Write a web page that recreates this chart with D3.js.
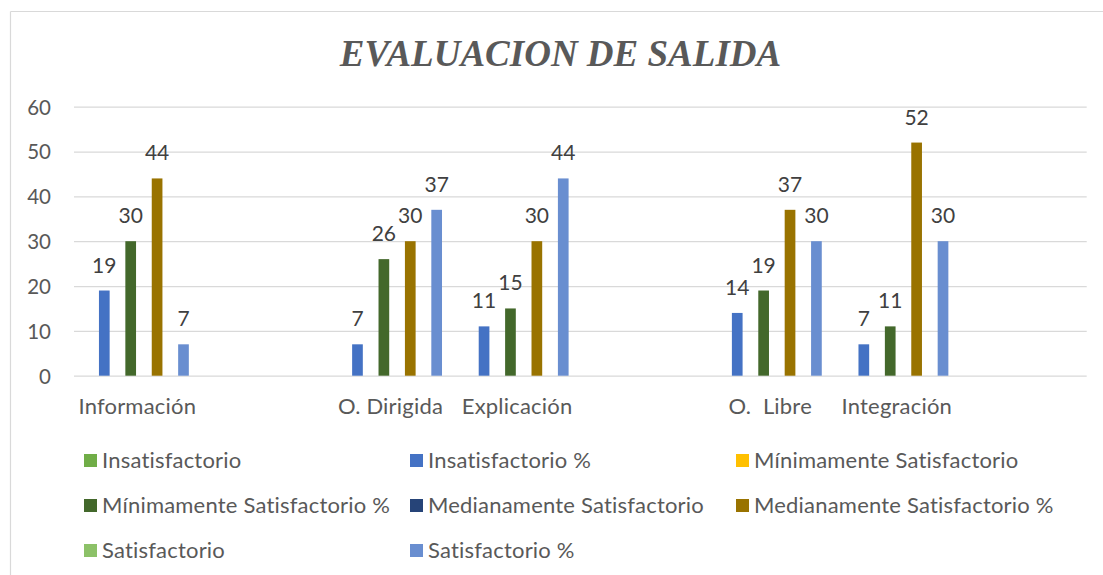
<!DOCTYPE html>
<html>
<head>
<meta charset="utf-8">
<script src="https://cdn.jsdelivr.net/npm/d3@7"></script>
<style>
  html, body { margin: 0; padding: 0; background: #fff; }
  svg { display: block; }
  text { white-space: pre; }
</style>
</head>
<body>
<svg id="chart" width="1103" height="575"></svg>
<script>
// ---- DATA ----
const title = "EVALUACION DE SALIDA";
const categories = ["Información", "", "O. Dirigida", "Explicación", "", "O.  Libre", "Integración", ""];
const seriesNames = [
  "Insatisfactorio", "Insatisfactorio %",
  "Mínimamente Satisfactorio", "Mínimamente Satisfactorio %",
  "Medianamente Satisfactorio", "Medianamente Satisfactorio %",
  "Satisfactorio", "Satisfactorio %"
];
const seriesColors = ["#70AD47", "#4472C4", "#FFC000", "#43682B", "#264478", "#997300", "#8CC168", "#698ED0"];
const insatisfactorio          = [null, null, null, null, null, null, null, null];
const insatisfactorioPct       = [19, null, 7, 11, null, 14, 7, null];
const minimamente              = [null, null, null, null, null, null, null, null];
const minimamentePct           = [30, null, 26, 15, null, 19, 11, null];
const medianamente             = [null, null, null, null, null, null, null, null];
const medianamentePct          = [44, null, 30, 30, null, 37, 52, null];
const satisfactorio            = [null, null, null, null, null, null, null, null];
const satisfactorioPct         = [7, null, 37, 44, null, 30, 30, null];
const yTicks = [0, 10, 20, 30, 40, 50, 60];

const seriesValues = [insatisfactorio, insatisfactorioPct, minimamente, minimamentePct,
                      medianamente, medianamentePct, satisfactorio, satisfactorioPct];

// ---- LAYOUT ----
const svg = d3.select("#chart");
const plotLeft = 74, plotRight = 1086.7, plotTop = 106.7, plotBottom = 375.7;
const font = "Lato, 'Liberation Sans', sans-serif";

// chart border (partial, as cropped)
svg.append("line").attr("x1", 10.5).attr("x2", 1103).attr("y1", 11.5).attr("y2", 11.5)
  .attr("stroke", "#d9d9d9").attr("stroke-width", 1.2);
svg.append("line").attr("x1", 10.5).attr("x2", 10.5).attr("y1", 11.5).attr("y2", 575)
  .attr("stroke", "#d9d9d9").attr("stroke-width", 1.2);

// title
svg.append("text").attr("x", 560.5).attr("y", 65.5).attr("text-anchor", "middle")
  .attr("font-family", "'Liberation Serif', 'Times New Roman', serif")
  .attr("font-weight", "bold").attr("font-style", "italic")
  .attr("font-size", 37).attr("fill", "#595959").text(title);

const y = d3.scaleLinear().domain([0, 60]).range([plotBottom, plotTop]);
const x0 = d3.scaleBand().domain(d3.range(categories.length)).range([plotLeft, plotRight])
  .paddingInner(0).paddingOuter(0);
const m = 10.5;
const x1 = d3.scaleBand().domain(d3.range(seriesNames.length))
  .range([m, x0.bandwidth() - m]).paddingInner(0.19).paddingOuter(0.095);

// grid + y axis
const yAxis = d3.axisLeft(y).tickValues(yTicks).tickSize(-(plotRight - plotLeft)).tickPadding(23)
  .tickFormat(d3.format("d"));
const gy = svg.append("g").attr("transform", `translate(${plotLeft},0)`).call(yAxis);
gy.select(".domain").remove();
gy.selectAll(".tick line").attr("stroke", "#d9d9d9").attr("stroke-width", 1.3);
gy.selectAll(".tick text").attr("font-family", font).attr("font-size", 20.5)
  .attr("fill", "#595959").attr("dy", "0.36em");

// x axis labels
const xAxis = d3.axisBottom(x0).tickSize(0).tickPadding(0).tickFormat(i => categories[i]);
const gx = svg.append("g").attr("transform", `translate(0,${plotBottom})`).call(xAxis);
gx.select(".domain").remove();
gx.selectAll(".tick text").attr("font-family", font).attr("font-size", 22)
  .attr("letter-spacing", 0.2)
  .attr("fill", "#595959").attr("dy", null).attr("y", 38);

// bars
const barData = [];
categories.forEach((c, ci) => {
  seriesValues.forEach((vals, si) => {
    if (vals[ci] != null) barData.push({ ci, si, v: vals[ci] });
  });
});
svg.append("g").selectAll("rect").data(barData).join("rect")
  .attr("x", d => x0(d.ci) + x1(d.si))
  .attr("width", x1.bandwidth())
  .attr("y", d => y(d.v))
  .attr("height", d => y(0) - y(d.v))
  .attr("fill", d => seriesColors[d.si]);

// data labels
svg.append("g").selectAll("text").data(barData).join("text")
  .attr("x", d => x0(d.ci) + x1(d.si) + x1.bandwidth() / 2)
  .attr("y", d => y(d.v) - 18)
  .attr("text-anchor", "middle")
  .attr("font-family", font).attr("font-size", 21).attr("fill", "#404040")
  .text(d => d.v);

// legend
const legendCols = [84, 410, 736];
const legendRows = [460.5, 505.5, 550.5];
const lg = svg.append("g").selectAll("g").data(seriesNames).join("g")
  .attr("transform", (d, i) => `translate(${legendCols[i % 3]},${legendRows[Math.floor(i / 3)]})`);
lg.append("rect").attr("x", 0).attr("y", -6.5).attr("width", 13).attr("height", 13)
  .attr("fill", (d, i) => seriesColors[i]);
lg.append("text").attr("x", 18).attr("y", 0).attr("dy", "0.36em")
  .attr("font-family", font).attr("font-size", 22).attr("letter-spacing", 0.2)
  .attr("fill", "#595959")
  .text(d => d);
</script>
</body>
</html>
